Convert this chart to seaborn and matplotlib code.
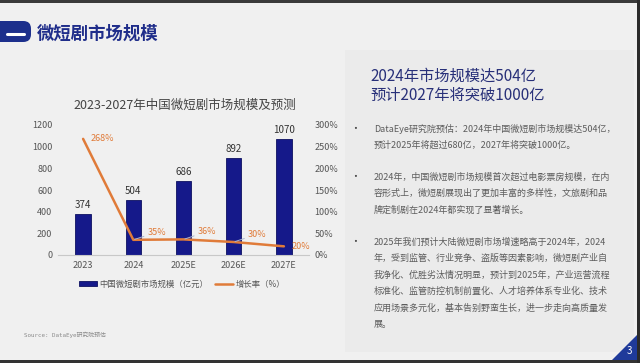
import matplotlib
matplotlib.use("Agg")
import matplotlib.pyplot as plt
import matplotlib.patches as mpatches
from matplotlib.lines import Line2D
import seaborn as sns
import pandas as pd

# chart data
years = ["2023", "2024", "2025E", "2026E", "2027E"]
market_size = [374, 504, 686, 892, 1070]
growth_rate = [268, 35, 36, 30, 20]
left_ticks = [0, 200, 400, 600, 800, 1000, 1200]
right_ticks = [0, 50, 100, 150, 200, 250, 300]

page_title = "微短剧市场规模"
chart_title = "2023-2027年中国微短剧市场规模及预测"
bar_name = "中国微短剧市场规模（亿元）"
line_name = "增长率（%）"
source = "Source: DataEye研究院预估"
headline = ["2024年市场规模达504亿", "预计2027年将突破1000亿"]
bullets = [
    ["DataEye研究院预估：2024年中国微短剧市场规模达504亿，",
     "预计2025年将超过680亿，2027年将突破1000亿。"],
    ["2024年，中国微短剧市场规模首次超过电影票房规模，在内",
     "容形式上，微短剧展现出了更加丰富的多样性，文旅剧和品",
     "牌定制剧在2024年都实现了显著增长。"],
    ["2025年我们预计大陆微短剧市场增速略高于2024年，2024",
     "年，受到监管、行业竞争、盗版等因素影响，微短剧产业自",
     "我净化、优胜劣汰情况明显，预计到2025年，产业运营流程",
     "标准化、监管防控机制前置化、人才培养体系专业化、技术",
     "应用场景多元化，基本告别野蛮生长，进一步走向高质量发",
     "展。"],
]

NAVY = "#15198a"
ORANGE = "#e07b39"
TITLE_BLUE = "#1f2d8a"

W, H = 640, 363


def fx(px):
    return px / W


def fy(py):
    return 1 - py / H


sns.set_theme(style="white")
plt.rcParams["font.family"] = ["Noto Sans CJK SC", "DejaVu Sans"]

fig = plt.figure(figsize=(6.4, 3.63), dpi=100)
fig.patch.set_facecolor("#f0f0f0")

# slide decorations
fig.add_artist(mpatches.Rectangle((fx(345), fy(352)), fx(634) - fx(345), fy(50) - fy(352),
                                  transform=fig.transFigure, facecolor="#ebebeb", edgecolor="none"))
fig.add_artist(mpatches.Rectangle((0, fy(2.5)), 1, 2.5 / H, transform=fig.transFigure,
                                  facecolor="#3a3a3a", edgecolor="none"))
fig.add_artist(mpatches.Rectangle((0, 0), 1, 3 / H, transform=fig.transFigure,
                                  facecolor="#333333", edgecolor="none"))
fig.add_artist(mpatches.Rectangle((fx(637), 0), 3 / W, 1, transform=fig.transFigure,
                                  facecolor="#2b2b2b", edgecolor="none"))
fig.add_artist(mpatches.Polygon([(fx(612), fy(360)), (fx(637), fy(335)), (fx(637), fy(360))],
                                closed=True, transform=fig.transFigure,
                                facecolor="#1f3a9a", edgecolor="none"))
fig.text(fx(629), fy(351), "3", color="white", fontsize=7, ha="center", va="center")

# header tab
fig.add_artist(mpatches.FancyBboxPatch((fx(-12), fy(42)), fx(43), fy(21) - fy(42),
                                       boxstyle="round,pad=0,rounding_size=0.012",
                                       mutation_aspect=W / H, transform=fig.transFigure,
                                       facecolor="#1c2f8c", edgecolor="none"))
fig.add_artist(Line2D([fx(7), fx(24)], [fy(34), fy(34)], transform=fig.transFigure,
                      color="white", linewidth=2.2))
fig.text(fx(37), fy(33.5), page_title, fontsize=12.5, fontweight="bold",
         color=TITLE_BLUE, va="center", ha="left")

# chart
df = pd.DataFrame({"year": years, "size": market_size, "growth": growth_rate})

ax = fig.add_axes([fx(58), fy(255), 251 / W, 130 / H])
ax.set_facecolor("none")
sns.barplot(data=df, x="year", y="size", color=NAVY, saturation=1, width=0.31,
            edgecolor="#0d1160", linewidth=0.6, ax=ax)
ax.bar_label(ax.containers[0], fontsize=7, color="#333333", padding=3)
ax.set_ylim(0, 1200)
ax.set_yticks(left_ticks)
ax.set_xlabel("")
ax.set_ylabel("")
sns.despine(ax=ax, left=True)
ax.spines["bottom"].set_color("#c8c8c8")
ax.spines["bottom"].set_linewidth(0.8)
ax.tick_params(axis="y", length=0, labelsize=6.5, colors="#555555", pad=4)
ax.tick_params(axis="x", length=0, labelsize=6.5, colors="#555555", pad=4)

ax2 = ax.twinx()
sns.lineplot(x=df.index, y=df["growth"], color=ORANGE, linewidth=1.8, ax=ax2)
ax2.set_ylim(0, 300)
ax2.set_yticks(right_ticks)
ax2.set_yticklabels([f"{v}%" for v in right_ticks])
ax2.set_ylabel("")
ax2.tick_params(axis="y", length=0, labelsize=6.5, colors="#555555", pad=4)
for s in ax2.spines.values():
    s.set_visible(False)
ax.set_xlim(-0.5, 4.5)

for i, g in enumerate(growth_rate):
    label = f"{g}%"
    if i == 0 or i == len(growth_rate) - 1:
        ax2.annotate(label, (i, g), xytext=(5.5, 0), textcoords="offset points",
                     ha="left", va="center", fontsize=6.5, color=ORANGE)
    else:
        ax2.annotate(label, (i, g), xytext=(10, 5.5), textcoords="offset points",
                     ha="left", va="center", fontsize=6.5, color=ORANGE,
                     arrowprops=dict(arrowstyle="-", color="#a9b4d0", lw=0.7,
                                     shrinkA=0, shrinkB=1))

fig.text(fx(184.5), fy(105), chart_title, fontsize=9, color="#444444",
         ha="center", va="center")

handles = [mpatches.Patch(facecolor=NAVY, edgecolor="#0d1160", linewidth=0.6),
           Line2D([], [], color=ORANGE, linewidth=1.8)]
fig.legend(handles, [bar_name, line_name], loc="center", bbox_to_anchor=(fx(182), fy(284)),
           ncol=2, frameon=False, fontsize=6, handlelength=2.2, handleheight=0.6,
           columnspacing=0.8, handletextpad=0.3, labelcolor="#555555")

fig.text(fx(24), fy(335), source, fontsize=4.2, color="#8a8a8a", ha="left", va="center",
         family=["DejaVu Sans Mono", "Noto Sans CJK SC"])

# right panel text
for k, line in enumerate(headline):
    fig.text(fx(370), fy(76 + k * 19), line, fontsize=11, color="#283079",
             ha="left", va="center")

line_gap = 16.6
starts = [129, 177, 242]
for start, para in zip(starts, bullets):
    fig.text(fx(355), fy(start), "•", fontsize=7, color="#444444", ha="center", va="center")
    for j, line in enumerate(para):
        fig.text(fx(374), fy(start + j * line_gap), line, fontsize=6.5, color="#5c5c5c",
                 ha="left", va="center")

fig.savefig("out.png", dpi=100, facecolor=fig.get_facecolor())
